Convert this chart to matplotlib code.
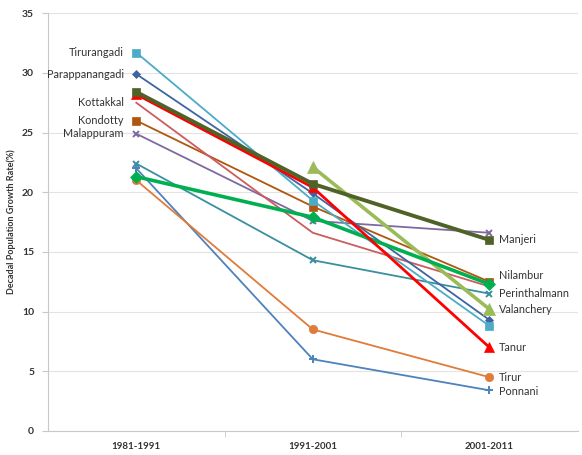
import matplotlib
matplotlib.use("Agg")
import matplotlib.pyplot as plt
import numpy as np

# periodes et taux de croissance decennale (%) par commune
periodes = ["1981-1991", "1991-2001", "2001-2011"]

tirurangadi    = [31.7, 19.3, 8.8]
parappanangadi = [29.9, 19.9, 9.3]
manjeri        = [28.4, 20.7, 16.0]
tanur          = [28.2, 20.4, 7.0]
kottakkal      = [27.5, 16.6, 12.1]
kondotty       = [26.0, 18.8, 12.5]
malappuram     = [24.9, 17.6, 16.6]
perinthalmanna = [22.4, 14.3, 11.5]
nilambur       = [21.3, 17.9, 12.3]
tirur          = [21.0, 8.5, 4.5]
ponnani        = [22.0, 6.0, 3.4]
valanchery     = [np.nan, 22.1, 10.2]

yticks = [0, 5, 10, 15, 20, 25, 30, 35]

# (nom, valeurs, couleur, marqueur, epaisseur, taille marqueur, cote de l'etiquette, decalage y en points)
series = [
    ("Ponnani", ponnani, "#4F81BD", "+", 1.3, 6, "right", -1),
    ("Tirur", tirur, "#E07B39", "o", 1.3, 6, "right", 0),
    ("Perinthalmann", perinthalmanna, "#3A8FA0", "x", 1.3, 5, "right", 0),
    ("Malappuram", malappuram, "#7F6A9F", "x", 1.3, 5, "left", 0),
    ("Kondotty", kondotty, "#B0560E", "s", 1.3, 6, "left", 0),
    ("Kottakkal", kottakkal, "#CC5C5E", None, 1.3, 0, "left", 0),
    ("Parappanangadi", parappanangadi, "#3E64A0", "D", 1.3, 4.5, "left", 0),
    ("Tirurangadi", tirurangadi, "#4BACC6", "s", 1.3, 6, "left", 0),
    ("Valanchery", valanchery, "#9BBB59", "^", 2.6, 9, "right", 0),
    ("Nilambur", nilambur, "#00B050", "D", 2.6, 6.5, "right", 6),
    ("Tanur", tanur, "#FF0000", "^", 2.0, 6.5, "right", 0),
    ("Manjeri", manjeri, "#4F6228", "s", 2.8, 6, "right", 0),
]

plt.rcParams['font.family'] = ['Lato', 'DejaVu Sans']

fig = plt.figure(figsize=(5.82, 4.55), dpi=100)
ax = fig.add_axes([0.0825, 0.053, 0.91, 0.918])

x = np.arange(len(periodes))
for nom, vals, coul, mk, lw, ms, cote, dy in series:
    ax.plot(x, vals, color=coul, lw=lw, marker=mk, markersize=ms,
            markeredgewidth=1.4 if mk in ("+", "x") else 0.5, markeredgecolor=coul, zorder=3)
    if cote == "left":
        ax.annotate(nom, (0, vals[0]), xytext=(-9, dy), textcoords="offset points",
                    ha="right", va="center", fontsize=7.8, color="#333333")
    else:
        ax.annotate(nom, (2, vals[2]), xytext=(7, dy), textcoords="offset points",
                    ha="left", va="center", fontsize=7.8, color="#333333",
                    annotation_clip=False)

ax.set_xlim(-0.5, 2.5)
ax.set_ylim(0, 35)
ax.set_yticks(yticks)
ax.set_yticklabels([str(t) for t in yticks], fontsize=7.5, fontweight="bold", color="#333333")
ax.set_xticks(x)
ax.set_xticklabels(periodes, fontsize=7, fontweight="bold", color="#333333")
ax.set_xticks([0.5, 1.5], minor=True)
ax.tick_params(axis="x", which="major", length=0, pad=8)
ax.tick_params(axis="x", which="minor", length=4, color="#C8C8C8")
ax.tick_params(axis="y", length=4, color="#C8C8C8", pad=6)
ax.yaxis.grid(True, color="#E3E3E3", lw=0.8)
ax.set_axisbelow(True)
for s in ["top", "right"]:
    ax.spines[s].set_visible(False)
for s in ["left", "bottom"]:
    ax.spines[s].set_color("#C8C8C8")
ax.set_ylabel("Decadal Population Growth Rate(%)", fontsize=6.5, fontweight="bold", color="#333333", labelpad=4)

fig.savefig("out.png", dpi=100)
